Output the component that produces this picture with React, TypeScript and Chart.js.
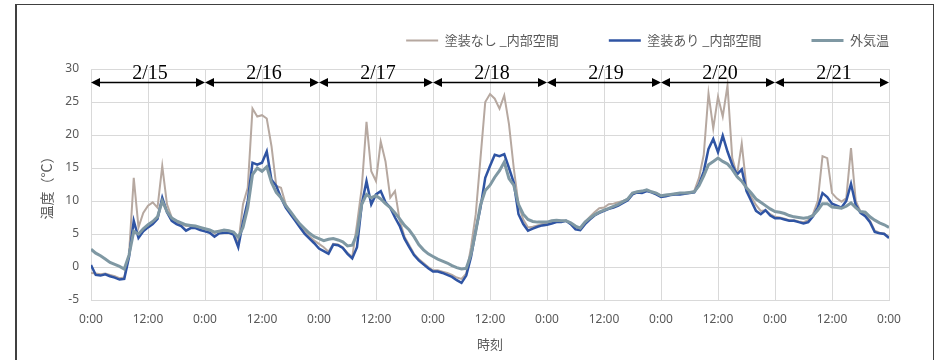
import React, { useEffect, useRef } from 'react';
import { Chart, registerables } from 'chart.js';

Chart.register(...registerables);

// ---- data (hourly readings from 2/15 0:00 to 2/22 0:00) ----
const SERIES_NAMES = ['塗装なし _内部空間', '塗装あり _内部空間', '外気温'];
const DATES = ['2/15', '2/16', '2/17', '2/18', '2/19', '2/20', '2/21'];
const X_TICK_LABELS = ['0:00', '12:00'];
const X_TITLE = '時刻';
const Y_TITLE = '温度（°C）';
const Y_MIN = -5;
const Y_MAX = 30;
const Y_STEP = 5;
const X_STEP_HOURS = 12;

const UNPAINTED = [
  -0.9, -1.0, -1.1, -1.0, -1.2, -1.4, -1.7, -1.6, 1.8, 13.5, 6.0, 8.2, 9.3, 9.8, 9.0, 15.3, 9.5, 7.5, 6.8, 6.5, 6.2, 6.2, 6.1, 5.9,
  5.7, 5.6, 5.1, 5.5, 5.6, 5.5, 5.2, 3.5, 9.5, 12.0, 24.0, 22.8, 23.0, 22.5, 18.3, 12.3, 12.0, 9.5, 8.3, 7.3, 6.3, 5.4, 4.6, 4.0,
  3.5, 3.0, 2.3, 3.5, 3.4, 3.0, 2.1, 1.5, 6.5, 12.0, 22.0, 14.5, 13.0, 19.0, 16.0, 10.5, 11.5, 7.0, 4.6, 3.3, 2.0, 1.2, 0.6, 0.0,
  -0.5, -0.5, -0.7, -0.9, -1.2, -1.6, -1.8, -1.0, 3.0, 8.0, 16.5, 25.0, 26.2, 25.5, 24.0, 26.0, 21.6, 15.0, 9.5, 7.2, 6.0, 6.1, 6.3, 6.5,
  6.6, 6.9, 7.0, 7.0, 7.0, 6.6, 6.0, 5.8, 6.8, 7.6, 8.3, 8.9, 9.0, 9.5, 9.6, 9.8, 10.0, 10.3, 11.2, 11.4, 11.3, 11.7, 11.4, 11.2,
  10.8, 10.9, 11.0, 11.1, 11.2, 11.2, 11.3, 11.5, 13.5, 17.0, 26.3, 21.0, 25.8, 22.8, 27.5, 16.5, 13.9, 18.7, 12.0, 10.6, 9.4, 8.5, 8.6, 8.0,
  7.6, 7.5, 7.3, 7.1, 7.1, 6.9, 6.8, 7.1, 8.0, 10.0, 16.8, 16.5, 11.2, 10.4, 9.9, 10.4, 18.0, 10.0, 8.4, 8.0, 7.0, 5.5, 5.2, 5.1, 4.5,
];

const PAINTED = [
  0.3, -1.2, -1.3, -1.1, -1.4, -1.6, -1.9, -1.8, 1.5, 7.0, 4.4, 5.4, 6.0, 6.5, 7.3, 10.5, 8.3, 7.0, 6.5, 6.2, 5.5, 5.9, 5.9, 5.6,
  5.4, 5.2, 4.6, 5.1, 5.2, 5.2, 4.9, 3.0, 6.8, 10.0, 15.8, 15.5, 15.8, 17.5, 13.2, 12.3, 10.5, 9.0, 8.0, 7.0, 6.0, 5.0, 4.3, 3.6,
  2.8, 2.4, 2.0, 3.4, 3.3, 2.9, 2.0, 1.3, 3.0, 9.5, 13.0, 9.5, 11.0, 11.5, 9.8, 9.0, 7.5, 6.2, 4.3, 3.0, 1.8, 1.0, 0.4, -0.2,
  -0.7, -0.7, -0.9, -1.2, -1.5, -2.0, -2.4, -1.3, 1.5, 5.5, 9.0, 13.5, 15.3, 17.0, 16.8, 17.1, 15.0, 12.8, 8.0, 6.5, 5.5, 5.8, 6.1, 6.3,
  6.4, 6.6, 6.8, 6.8, 7.0, 6.5, 5.7, 5.6, 6.5, 7.2, 7.8, 8.2, 8.5, 8.8, 9.0, 9.3, 9.7, 10.1, 11.0, 11.3, 11.2, 11.5, 11.3, 11.0,
  10.6, 10.7, 10.9, 11.0, 11.0, 11.1, 11.2, 11.3, 12.5, 14.5, 17.9, 19.4, 17.4, 19.9, 17.5, 15.5, 14.0, 14.8, 11.5, 10.0, 8.5, 8.0, 8.6, 7.8,
  7.4, 7.4, 7.2, 7.0, 7.0, 6.8, 6.6, 6.8, 7.7, 9.0, 11.2, 10.6, 9.6, 9.3, 9.0, 10.0, 12.6, 9.4, 8.2, 7.7, 6.8, 5.3, 5.1, 5.0, 4.4,
];

const OUTSIDE = [
  2.7, 2.1, 1.7, 1.2, 0.7, 0.4, 0.1, -0.3, 1.8, 5.4, 5.0, 5.8, 6.4, 6.9, 7.6, 10.0, 8.4, 7.4, 7.0, 6.7, 6.4, 6.3, 6.2, 6.0,
  5.8, 5.6, 5.3, 5.4, 5.6, 5.5, 5.3, 4.5, 6.0, 9.0, 14.0, 15.0, 14.5, 15.2, 12.8, 11.3, 10.5, 9.3, 8.4, 7.4, 6.5, 5.8, 5.1, 4.6,
  4.3, 4.0, 4.2, 4.3, 4.1, 3.8, 3.2, 3.3, 5.0, 9.5, 11.0, 10.5, 10.8, 10.3, 9.6, 9.0, 8.2, 7.3, 6.3, 5.6, 4.6, 3.4, 2.6, 2.0,
  1.6, 1.2, 0.9, 0.6, 0.2, -0.1, -0.3, -0.2, 1.9, 5.4, 9.4, 11.6, 12.4, 13.6, 14.6, 15.9, 13.4, 12.4, 9.5, 8.0, 7.2, 6.9, 6.8, 6.8,
  6.8, 7.0, 7.1, 7.0, 7.0, 6.7, 6.2, 5.9, 6.8, 7.4, 7.9, 8.3, 8.6, 8.9, 9.2, 9.5, 9.9, 10.3, 11.2, 11.4, 11.5, 11.7, 11.4, 11.2,
  10.8, 10.9, 11.0, 11.1, 11.2, 11.2, 11.3, 11.4, 12.3, 13.8, 15.5, 16.0, 16.5, 16.0, 15.6, 14.8, 13.7, 13.0, 12.0, 11.2, 10.3, 9.8, 9.3, 8.8,
  8.4, 8.3, 8.1, 7.8, 7.6, 7.5, 7.4, 7.5, 7.8, 8.6, 9.6, 9.6, 9.1, 9.0, 8.9, 9.2, 9.7, 9.0, 8.4, 8.3, 7.6, 7.1, 6.7, 6.4, 6.0,
];

// ---- styling ----
const JP_FONT = "'Noto Sans CJK JP', 'Noto Sans', sans-serif";
const TICK_FONT = "'Noto Sans', 'Noto Sans CJK JP', sans-serif";
const TEXT_GRAY = '#595959';
const GRID_GRAY = '#d9d9d9';
const COLOR_UNPAINTED = '#b6a8a0';
const COLOR_PAINTED = '#2f54a3';
const COLOR_OUTSIDE = '#7f98a3';
const ARROW_LEVEL = 28;

const legendFitPlugin = {
  id: 'legendFit',
  beforeLayout(chart: any) {
    const lg = chart.legend;
    if (lg && !lg.__patched) {
      const orig = lg.fit;
      lg.fit = function () {
        orig.call(this);
        this.height = 85;
      };
      lg.__patched = true;
    }
  },
};

const dateArrowPlugin = {
  id: 'dateArrows',
  afterDatasetsDraw(chart: any) {
    const { ctx, scales } = chart;
    const xs = scales.x;
    const ys = scales.y;
    const yy = Math.round(ys.getPixelForValue(ARROW_LEVEL)) + 0.5;
    const headL = 9;
    const headH = 4.5;
    ctx.save();
    ctx.strokeStyle = '#000';
    ctx.fillStyle = '#000';
    ctx.lineWidth = 1.5;
    DATES.forEach((d, i) => {
      const x0 = xs.getPixelForValue(i * 24);
      const x1 = xs.getPixelForValue((i + 1) * 24);
      ctx.beginPath();
      ctx.moveTo(x0 + headL - 1, yy);
      ctx.lineTo(x1 - headL + 1, yy);
      ctx.stroke();
      ctx.beginPath();
      ctx.moveTo(x0, yy);
      ctx.lineTo(x0 + headL, yy - headH);
      ctx.lineTo(x0 + headL, yy + headH);
      ctx.closePath();
      ctx.fill();
      ctx.beginPath();
      ctx.moveTo(x1, yy);
      ctx.lineTo(x1 - headL, yy - headH);
      ctx.lineTo(x1 - headL, yy + headH);
      ctx.closePath();
      ctx.fill();
      ctx.font = "20px 'Liberation Serif', 'Times New Roman', serif";
      ctx.textAlign = 'center';
      ctx.textBaseline = 'alphabetic';
      ctx.fillText(d, xs.getPixelForValue(i * 24 + 12) + 2, yy - 3.5);
    });
    ctx.restore();
  },
};

export default function App() {
  const ref = useRef<HTMLCanvasElement>(null);

  useEffect(() => {
    document.body.style.margin = '0';
    const canvas = ref.current;
    if (!canvas) return;
    const toPts = (arr: number[]) => arr.map((v, i) => ({ x: i, y: v }));

    const chart = new Chart(canvas, {
      type: 'line',
      data: {
        datasets: [
          {
            label: SERIES_NAMES[0],
            data: toPts(UNPAINTED),
            borderColor: COLOR_UNPAINTED,
            backgroundColor: COLOR_UNPAINTED,
            borderWidth: 2,
            order: 3,
          },
          {
            label: SERIES_NAMES[1],
            data: toPts(PAINTED),
            borderColor: COLOR_PAINTED,
            backgroundColor: COLOR_PAINTED,
            borderWidth: 2.5,
            order: 2,
          },
          {
            label: SERIES_NAMES[2],
            data: toPts(OUTSIDE),
            borderColor: COLOR_OUTSIDE,
            backgroundColor: COLOR_OUTSIDE,
            borderWidth: 3,
            order: 1,
          },
        ],
      },
      options: {
        responsive: false,
        animation: false,
        devicePixelRatio: 1,
        layout: { padding: { top: -16, left: 0, right: 0, bottom: 0 } },
        elements: {
          point: { radius: 0, hoverRadius: 0, pointStyle: 'line' },
          line: { tension: 0, borderJoin: 'round' },
        },
        plugins: {
          legend: {
            position: 'top',
            align: 'end',
            labels: {
              usePointStyle: true,
              pointStyle: 'line',
              pointStyleWidth: 32,
              padding: 50,
              color: TEXT_GRAY,
              font: { size: 13, family: JP_FONT },
              sort: (a: any, b: any) => a.datasetIndex - b.datasetIndex,
            },
          },
          tooltip: { enabled: false },
        },
        scales: {
          x: {
            type: 'linear',
            min: 0,
            max: 168,
            ticks: {
              stepSize: X_STEP_HOURS,
              autoSkip: false,
              maxRotation: 0,
              padding: 12,
              color: TEXT_GRAY,
              font: { size: 12, family: TICK_FONT },
              callback: (v: any) => X_TICK_LABELS[Math.round(Number(v) / X_STEP_HOURS) % 2],
            },
            grid: { color: GRID_GRAY, drawTicks: false, lineWidth: 1 },
            border: { color: GRID_GRAY },
            title: {
              display: true,
              text: X_TITLE,
              color: TEXT_GRAY,
              font: { size: 13, family: JP_FONT },
              padding: { top: 8, bottom: 8 },
            },
            afterFit: (s: any) => {
              s.height = 60;
              s.paddingRight = 50;
            },
          },
          y: {
            min: Y_MIN,
            max: Y_MAX,
            ticks: {
              stepSize: Y_STEP,
              padding: 12,
              color: TEXT_GRAY,
              font: { size: 12, family: TICK_FONT },
            },
            grid: { color: GRID_GRAY, drawTicks: false, lineWidth: 1 },
            border: { color: GRID_GRAY },
            title: {
              display: true,
              text: Y_TITLE,
              color: TEXT_GRAY,
              font: { size: 14, family: JP_FONT },
              padding: { top: 38, bottom: 38 },
            },
            afterFit: (s: any) => {
              s.width = 91;
            },
          },
        },
      } as any,
      plugins: [legendFitPlugin, dateArrowPlugin],
    });

    return () => chart.destroy();
  }, []);

  return (
    <div style={{ position: 'relative', width: 939, height: 360, background: '#fff', overflow: 'hidden' }}>
      <canvas
        ref={ref}
        width={939}
        height={360}
        style={{ position: 'absolute', left: 0, top: 0, width: 939, height: 360 }}
      />
      <div
        style={{
          position: 'absolute',
          left: 15,
          top: 4,
          width: 916,
          height: 400,
          borderLeft: '2px solid #404040',
          borderTop: '1px solid #404040',
          borderRight: '1px solid #404040',
          pointerEvents: 'none',
        }}
      />
    </div>
  );
}
